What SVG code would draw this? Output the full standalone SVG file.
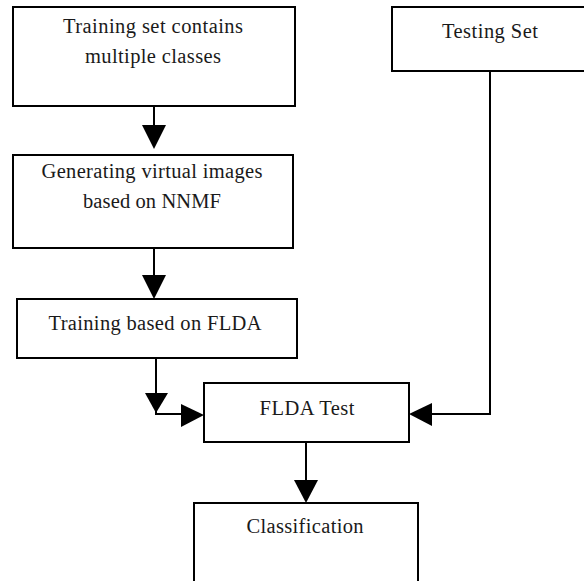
<svg xmlns="http://www.w3.org/2000/svg" width="584" height="581" viewBox="0 0 584 581">
<style>
.box{fill:#fff;stroke:#000;stroke-width:2}
.ln{fill:none;stroke:#000;stroke-width:2}
.hd{fill:#000}
.t{font-family:'Liberation Serif','DejaVu Serif',serif;font-size:20.5px;fill:#1a1a1a;text-anchor:middle}
</style>
<rect width="584" height="581" fill="#fff"/>
<g id="n-training-set">
<rect class="box" x="13" y="7" width="282" height="99"/>
<text class="t" x="153" y="33" textLength="180" lengthAdjust="spacing">Training set contains</text>
<text class="t" x="153" y="63" textLength="136" lengthAdjust="spacing">multiple classes</text>
</g>
<g id="n-testing-set">
<rect class="box" x="392" y="7" width="200" height="64"/>
<text class="t" x="490" y="38" textLength="96" lengthAdjust="spacing">Testing Set</text>
</g>
<g id="n-generating">
<rect class="box" x="13" y="155" width="280" height="93"/>
<text class="t" x="152" y="178" textLength="221" lengthAdjust="spacing">Generating virtual images</text>
<text class="t" x="152" y="208" textLength="138" lengthAdjust="spacing">based on NNMF</text>
</g>
<g id="n-training-flda">
<rect class="box" x="17" y="299" width="280" height="59"/>
<text class="t" x="155" y="330" textLength="213" lengthAdjust="spacing">Training based on FLDA</text>
</g>
<g id="n-flda-test">
<rect class="box" x="204" y="383" width="205" height="59"/>
<text class="t" x="307" y="415" textLength="95" lengthAdjust="spacing">FLDA Test</text>
</g>
<g id="n-classification">
<rect class="box" x="194" y="503" width="224" height="90"/>
<text class="t" x="305" y="533" textLength="117" lengthAdjust="spacing">Classification</text>
</g>
<g id="connectors">
<path class="ln" d="M154 106V126"/>
<polygon class="hd" points="142,125 166,125 154,149"/>
<path class="ln" d="M154 248V276"/>
<polygon class="hd" points="142,275 166,275 154,299"/>
<path class="ln" d="M156 358V414H182"/>
<polygon class="hd" points="145,393 168,393 156,413"/>
<polygon class="hd" points="181,404 181,427 204,415"/>
<path class="ln" d="M490 71V414H432"/>
<polygon class="hd" points="432,403 432,426 409,414"/>
<path class="ln" d="M306 442V481"/>
<polygon class="hd" points="294,480 318,480 306,503"/>
</g>
</svg>
